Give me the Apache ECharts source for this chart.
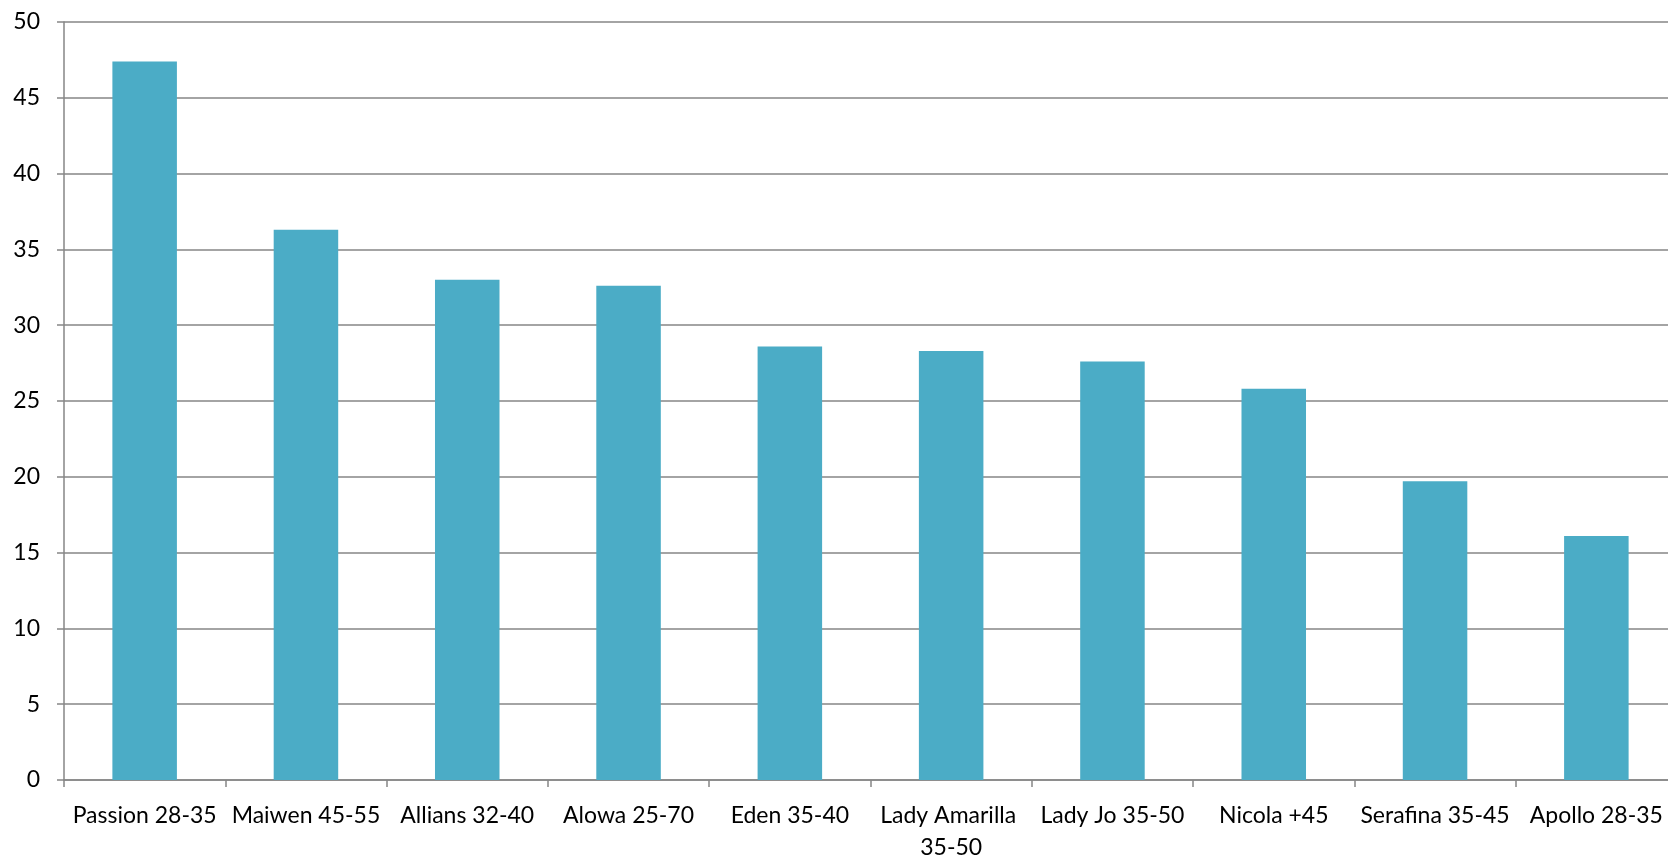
<!DOCTYPE html>
<html>
<head>
<meta charset="utf-8">
<script src="https://cdn.jsdelivr.net/npm/echarts@6/dist/echarts.min.js"></script>
<style>
html,body{margin:0;padding:0;background:#fff;}
#chart{width:1668px;height:857px;}
</style>
</head>
<body>
<div id="chart"></div>
<script>
const categories = ["Passion 28-35","Maiwen 45-55","Allians 32-40","Alowa 25-70","Eden 35-40","Lady Amarilla 35-50","Lady Jo 35-50","Nicola +45","Serafina 35-45","Apollo 28-35"];
const values = [47.4, 36.3, 33.0, 32.6, 28.6, 28.3, 27.6, 25.8, 19.7, 16.1];
const yTicks = {min: 0, max: 50, interval: 5};

const chart = echarts.init(document.getElementById('chart'), null, {renderer: 'canvas'});
const font = 'Lato';
chart.setOption({
  animation: false,
  backgroundColor: '#ffffff',
  grid: {left: 64, right: -9, top: 22, bottom: 77, containLabel: false, outerBoundsMode: 'none'},
  xAxis: {
    type: 'category',
    data: categories,
    axisLine: {lineStyle: {color: '#868686', width: 1.5}},
    axisTick: {show: true, length: 7, lineStyle: {color: '#868686', width: 1.5}},
    axisLabel: {
      color: '#000', fontFamily: font, fontSize: 23, margin: 20,
      width: 160, overflow: 'break', lineHeight: 32, interval: 0
    }
  },
  yAxis: {
    type: 'value',
    min: yTicks.min, max: yTicks.max, interval: yTicks.interval,
    axisLine: {show: true, lineStyle: {color: '#868686', width: 1.5}},
    axisTick: {show: true, length: 7, lineStyle: {color: '#868686', width: 1.5}},
    splitLine: {show: true, lineStyle: {color: '#868686', width: 1.5}},
    axisLabel: {color: '#000', fontFamily: font, fontSize: 23, margin: 24}
  },
  series: [{
    type: 'bar',
    data: values,
    barWidth: '40%',
    itemStyle: {color: '#4BACC6'}
  }]
});
</script>
</body>
</html>
